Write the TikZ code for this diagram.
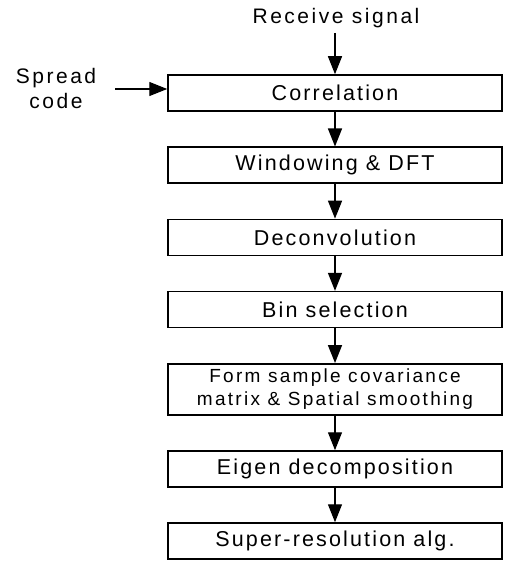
\documentclass[tikz,border=0pt]{standalone}
\usepackage{fontspec}
\setmainfont{Liberation Sans}[LetterSpace=10]
\newfontfamily\lblfont{Liberation Sans}[LetterSpace=12]
\usetikzlibrary{arrows.meta}
\begin{document}
\begin{tikzpicture}[x=1pt,y=-1pt,
  box/.style={draw, line width=1.5pt, minimum width=334pt, minimum height=36pt,
    inner sep=0pt, align=center, font=\fontsize{21.5}{26}\selectfont},
  arr/.style={line width=1.4pt, -{Triangle[length=18pt,width=14pt]}},
  lbl/.style={align=center, inner sep=0pt, font=\lblfont\fontsize{21}{25}\selectfont}]
\useasboundingbox (0,0) rectangle (504,561);
\node[box] (c1) at (335,93) {Correlation};
\node[box] (c2) at (335,165.2) {Windowing \& DFT};
\node[box] (c3) at (335,237.4) {Deconvolution};
\node[box] (c4) at (335,309.6) {Bin selection};
\node[box, minimum height=51pt, font=\lblfont\fontsize{19}{23}\selectfont] (c5) at (335,389.3)
  {Form sample covariance\\matrix \& Spatial smoothing};
\node[box] (c6) at (335,469) {Eigen decomposition};
\node[box] (c7) at (335,541) {Super-resolution alg.};
\node[lbl] (rs) at (336,18) {Receive signal};
\coordinate (rsa) at (335,33);
\node[lbl] (sc) at (56,88.5) {Spread\\code};
\coordinate (sca) at (115,89);
\draw[arr] (rsa) -- (c1.north);
\draw[arr] (sca) -- (sca -| c1.west);
\draw[arr] (c1.south) -- (c2.north);
\draw[arr] (c2.south) -- (c3.north);
\draw[arr] (c3.south) -- (c4.north);
\draw[arr] (c4.south) -- (c5.north);
\draw[arr] (c5.south) -- (c6.north);
\draw[arr] (c6.south) -- (c7.north);
\end{tikzpicture}
\end{document}
